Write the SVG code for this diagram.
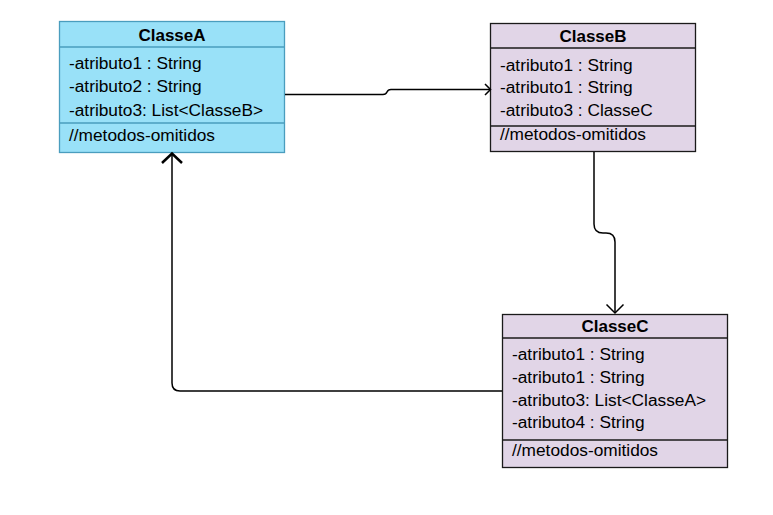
<svg xmlns="http://www.w3.org/2000/svg" width="773" height="515" viewBox="0 0 773 515">
<style>
text{font-family:"Liberation Sans",Arial,sans-serif;font-size:17.3px;fill:#000}
.h{font-weight:bold;text-anchor:middle;font-size:17px}
.a{fill:#99E1F8;stroke:#4A9DBE;stroke-width:1.3}
.p{fill:#E1D5E7;stroke:#1a1a1a;stroke-width:1.3}
.la{stroke:#4A9DBE;stroke-width:1.3}
.lp{stroke:#1a1a1a;stroke-width:1.3}
.c{fill:none;stroke:#000;stroke-width:1.5}
</style>
<rect width="773" height="515" fill="#fff"/>
<g id="ClasseA">
<rect class="a" x="59.5" y="21.5" width="225" height="131"/>
<line class="la" x1="59.5" y1="47" x2="284.5" y2="47"/>
<line class="la" x1="59.5" y1="123" x2="284.5" y2="123"/>
<text class="h" x="172" y="41">ClasseA</text>
<text x="69" y="69">-atributo1 : String</text>
<text x="69" y="92">-atributo2 : String</text>
<text x="69" y="115.5">-atributo3: List&lt;ClasseB&gt;</text>
<text x="69" y="141">//metodos-omitidos</text>
</g>
<g id="ClasseB">
<rect class="p" x="490.5" y="23.5" width="205" height="128"/>
<line class="lp" x1="490.5" y1="48" x2="695.5" y2="48"/>
<line class="lp" x1="490.5" y1="126" x2="695.5" y2="126"/>
<text class="h" x="593" y="42">ClasseB</text>
<text x="500" y="70.5">-atributo1 : String</text>
<text x="500" y="93">-atributo1 : String</text>
<text x="500" y="115.5">-atributo3 : ClasseC</text>
<text x="500" y="140">//metodos-omitidos</text>
</g>
<g id="ClasseC">
<rect class="p" x="502.5" y="314.5" width="225" height="153"/>
<line class="lp" x1="502.5" y1="338" x2="727.5" y2="338"/>
<line class="lp" x1="502.5" y1="440" x2="727.5" y2="440"/>
<text class="h" x="615" y="332">ClasseC</text>
<text x="512" y="360">-atributo1 : String</text>
<text x="512" y="383">-atributo1 : String</text>
<text x="512" y="405.5">-atributo3: List&lt;ClasseA&gt;</text>
<text x="512" y="428">-atributo4 : String</text>
<text x="512" y="455.5">//metodos-omitidos</text>
</g>
<g id="connectors">
<path class="c" d="M285 94.5 H383 Q386 94.5 387 92 Q388 89.5 391 89.5 H490"/>
<path class="c" d="M485 84 L490.5 89.5 L485 95"/>
<path class="c" d="M594 152 V224 Q594 233 603 233 H606 Q615 233 615 242 V313"/>
<path class="c" d="M606.5 304.5 L615 313 L623.5 304.5"/>
<path class="c" d="M502 391 H180 Q172 391 172 383 V154"/>
<path fill="none" stroke="#000" stroke-width="2.5" d="M162 163 L172 153.5 L182 163"/>
</g>
</svg>
